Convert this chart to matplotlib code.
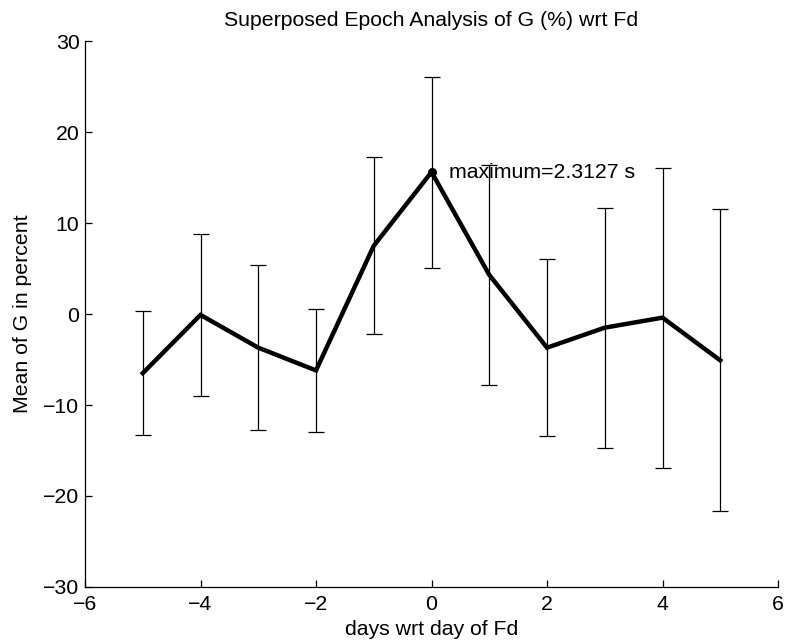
import numpy as np
import matplotlib.pyplot as plt
from matplotlib.ticker import MultipleLocator

# Superposed epoch data: day offset, mean of G (%), half-width of error bar
days = [-5, -4, -3, -2, -1, 0, 1, 2, 3, 4, 5]
mean_g = [-6.5, -0.1, -3.7, -6.2, 7.5, 15.6, 4.3, -3.7, -1.5, -0.4, -5.1]
err_g = [6.8, 8.9, 9.1, 6.8, 9.7, 10.5, 12.1, 9.7, 13.2, 16.5, 16.6]

max_label = "maximum=2.3127 s"

FONT = ['Liberation Sans', 'DejaVu Sans']
FS = 15.3

plt.rcParams['font.family'] = FONT
plt.rcParams['axes.unicode_minus'] = True

fig = plt.figure(figsize=(7.87, 6.43), dpi=100)
ax = fig.add_axes([0.108, 0.0871, 0.8806, 0.8491])

# error bars (thin) then the mean curve on top
ax.errorbar(days, mean_g, yerr=err_g, fmt='none', ecolor='black',
            elinewidth=0.9, capsize=5.5, capthick=0.9)
ax.plot(days, mean_g, color='black', linewidth=3.2, solid_joinstyle='miter')

# mark the maximum
i_max = int(np.argmax(mean_g))
ax.plot(days[i_max], mean_g[i_max], 'o', color='black', markersize=5.5)
ax.text(days[i_max] + 0.3, mean_g[i_max], max_label, fontsize=FS,
        va='center', ha='left')

ax.set_xlim(-6, 6)
ax.set_ylim(-30, 30)
ax.xaxis.set_major_locator(MultipleLocator(2))
ax.yaxis.set_major_locator(MultipleLocator(10))

ax.spines['top'].set_visible(False)
ax.spines['right'].set_visible(False)
for s in ('left', 'bottom'):
    ax.spines[s].set_linewidth(0.9)

ax.tick_params(direction='in', length=5, width=0.9, labelsize=FS)
ax.tick_params(axis='x', pad=6)
ax.tick_params(axis='y', pad=4)

ax.set_title("Superposed Epoch Analysis of G (%) wrt Fd", fontsize=FS, pad=11)
ax.set_xlabel("days wrt day of Fd", fontsize=FS, labelpad=4)
ax.set_ylabel("Mean of G in percent", fontsize=FS, labelpad=8)

fig.savefig("out.png", dpi=100)
